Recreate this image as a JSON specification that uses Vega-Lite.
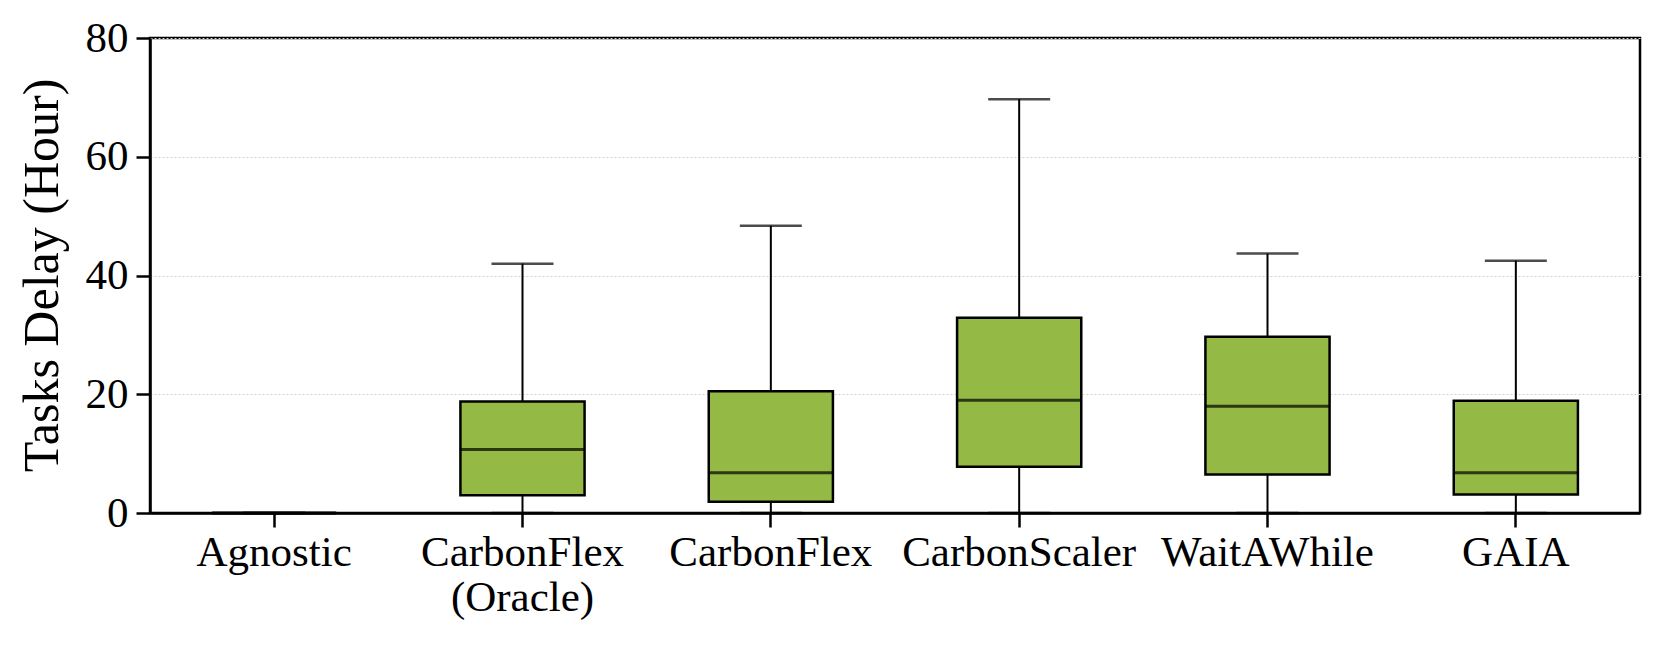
{
  "$schema": "https://vega.github.io/schema/vega-lite/v6.json",
  "width": 1490,
  "height": 475,
  "autosize": {"type": "none"},
  "padding": {"left": 150, "top": 38, "right": 21, "bottom": 134},
  "background": "white",
  "config": {
    "font": "Liberation Serif",
    "view": {"stroke": "black", "strokeWidth": 2.5},
    "axis": {"domainColor": "black", "domainWidth": 2.5, "tickColor": "black", "tickWidth": 2.5, "tickSize": 14, "labelColor": "black", "titleColor": "black", "labelFont": "Liberation Serif", "titleFont": "Liberation Serif", "titleFontWeight": "normal", "labelLimit": 0}
  },
  "data": {
    "values": [
      {"name": "Agnostic", "lo": 0, "q1": 0, "med": 0, "q3": 0, "hi": 0},
      {"name": "CarbonFlex (Oracle)", "lo": 0, "q1": 3.0, "med": 10.7, "q3": 18.8, "hi": 42.0},
      {"name": "CarbonFlex", "lo": 0, "q1": 1.9, "med": 6.8, "q3": 20.5, "hi": 48.4},
      {"name": "CarbonScaler", "lo": 0, "q1": 7.8, "med": 19.0, "q3": 32.9, "hi": 69.7},
      {"name": "WaitAWhile", "lo": 0, "q1": 6.5, "med": 18.0, "q3": 29.7, "hi": 43.7},
      {"name": "GAIA", "lo": 0, "q1": 3.1, "med": 6.8, "q3": 18.9, "hi": 42.5}
    ]
  },
  "encoding": {
    "x": {
      "field": "name", "type": "nominal", "sort": null,
      "scale": {"paddingInner": 0, "paddingOuter": 0},
      "axis": {
        "title": null, "labelAngle": 0, "labelFontSize": 43, "labelPadding": 4,
        "labelLineHeight": 45, "grid": false,
        "labelExpr": "datum.value == 'CarbonFlex (Oracle)' ? ['CarbonFlex', '(Oracle)'] : datum.value"
      }
    }
  },
  "layer": [
    {
      "mark": {"type": "rule", "color": "black", "strokeWidth": 2},
      "encoding": {
        "y": {"field": "lo", "type": "quantitative", "scale": {"domain": [0, 80], "nice": false}, "axis": {
          "title": "Tasks Delay (Hour)", "titleFontSize": 50, "titleX": -108, "titleY": 237, "titleAngle": -90, "titleBaseline": "middle", "titleAlign": "center",
          "values": [0, 20, 40, 60, 80], "labelFontSize": 43, "labelPadding": 8,
          "grid": true, "gridColor": "#d0d0d0", "gridDash": [2, 2], "gridWidth": 1
        }},
        "y2": {"field": "q1"}
      }
    },
    {
      "mark": {"type": "rule", "color": "black", "strokeWidth": 2},
      "encoding": {
        "y": {"field": "q3", "type": "quantitative"},
        "y2": {"field": "hi"}
      }
    },
    {
      "mark": {"type": "bar", "fill": "#94BA45", "stroke": "black", "strokeWidth": 2.5, "width": {"band": 0.5}},
      "encoding": {
        "y": {"field": "q1", "type": "quantitative"},
        "y2": {"field": "q3"}
      }
    },
    {
      "mark": {"type": "tick", "color": "black", "thickness": 3, "size": 124},
      "encoding": {
        "y": {"field": "med", "type": "quantitative"}
      }
    },
    {
      "mark": {"type": "tick", "color": "black", "thickness": 2.5, "size": 62},
      "encoding": {
        "y": {"field": "hi", "type": "quantitative"}
      }
    },
    {
      "mark": {"type": "tick", "color": "black", "thickness": 2.5, "size": 62},
      "encoding": {
        "y": {"field": "lo", "type": "quantitative"}
      }
    }
  ]
}
